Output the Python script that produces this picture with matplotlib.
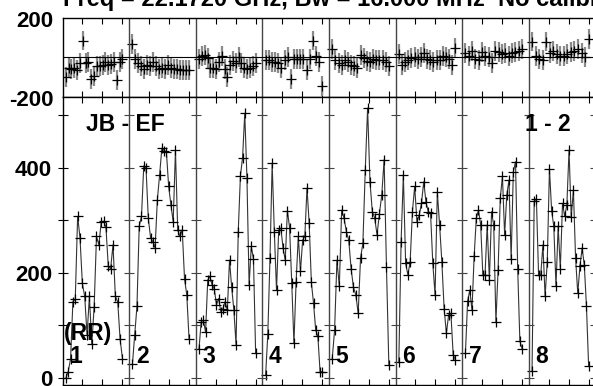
import numpy as np
import matplotlib.pyplot as plt
from matplotlib.transforms import blended_transform_factory

plt.rcParams['font.family'] = ['Liberation Sans', 'DejaVu Sans']
plt.rcParams['font.weight'] = 'bold'

# amplitude per IF
amp1 = [0, 12, 36, 145, 150, 307, 267, 180, 155, 82, 155, 64, 135, 269, 253, 296, 298, 287, 212, 208, 253, 155, 145, 74, 37]
amp2 = [26, 82, 136, 289, 307, 403, 400, 304, 267, 259, 247, 338, 386, 437, 432, 430, 364, 329, 297, 433, 281, 269, 281, 189, 158, 75]
amp3 = [56, 107, 110, 87, 186, 193, 177, 170, 139, 151, 126, 132, 145, 129, 224, 172, 129, 63, 277, 384, 419, 503, 381, 177, 250, 226, 47]
amp4 = [6, 83, 228, 408, 277, 167, 281, 285, 247, 224, 318, 286, 180, 66, 183, 269, 203, 262, 269, 361, 294, 182, 142, 91, 79, 12, 12]
amp5 = [37, 91, 224, 174, 319, 304, 278, 262, 208, 172, 158, 123, 228, 256, 395, 513, 373, 316, 304, 272, 312, 348, 415, 210, 25]
amp6 = [31, 259, 386, 218, 196, 221, 316, 364, 297, 309, 332, 373, 334, 316, 314, 218, 158, 354, 291, 221, 132, 85, 120, 123, 44, 34]
amp7 = [47, 146, 167, 129, 231, 304, 319, 291, 196, 196, 291, 186, 316, 290, 107, 205, 342, 383, 272, 348, 376, 226, 392, 411, 208, 70, 56]
amp8 = [13, 336, 341, 196, 196, 253, 155, 221, 398, 318, 288, 174, 288, 208, 332, 307, 329, 433, 306, 357, 228, 161, 212, 247, 215, 136, 22]

# phase per IF
ph1 = [-98, -56, -61, -56, -66, -29, 84, -29, -24, -111, -94, -46, -46, -39, -24, -39, -34, -24, -115, -24, -8]
ph2 = [66, -8, -29, -46, -61, -39, -46, -24, -44, -61, -56, -61, -39, -56, -59, -61, -64, -64, -64, -64]
ph3 = [-8, 8, 13, -3, -56, -56, -59, -24, 8, -61, -98, -39, -19, -29, 3, -27, -56, -59, -56, -46, -29]
ph4 = [-13, -16, -24, -24, -29, -56, -16, 3, -111, -8, -8, -8, -8, -66, -8, 84, 8, -24, -145]
ph5 = [40, -16, -29, -39, -16, -24, -39, -46, -56, 13, -3, -19, -24, -8, -13, -16, -13, -24, -46]
ph6 = [16, -39, -24, -16, -3, 3, -8, 3, 21, -8, -13, -24, -16, -16, 8, 3, -8, -39, 45]
ph7 = [21, 8, 33, -8, -13, 26, 8, 3, -29, 33, 26, 16, 21, 8, 21, 26, 33, 40]
ph8 = [79, 8, -8, -16, 79, 21, 30, 16, 8, 8, 16, 26, 33, 40, 21, 3, 94]

amps = [amp1, amp2, amp3, amp4, amp5, amp6, amp7, amp8]
phases = [ph1, ph2, ph3, ph4, ph5, ph6, ph7, ph8]
if_labels = ['1', '2', '3', '4', '5', '6', '7', '8']
npan = len(amps)

fig = plt.figure(figsize=(5.93, 3.86), dpi=100)
W = 593.0
H = 386.0
left = 62.5 / W
width = 66.6 * npan / W
ax_ph = fig.add_axes([left, 1 - 97 / H, width, 79.5 / H])
ax_am = fig.add_axes([left, 1 - 385 / H, width, 288 / H])

def panel_x(i, n):
    return i + np.linspace(0.05, 0.9, n)

for i in range(npan):
    x = panel_x(i, len(amps[i]))
    ax_am.plot(x, amps[i], color='#333333', lw=0.8, marker='+', ms=7,
               mew=0.9, mec='black')
    xp = panel_x(i, len(phases[i]))
    ax_ph.errorbar(xp, phases[i], yerr=50, fmt='none', ecolor='#8a8a8a',
                   elinewidth=1.6)
    ax_ph.plot(xp, phases[i], ls='none', marker='+', ms=7, mew=0.9,
               color='black')

for ax in (ax_ph, ax_am):
    ax.set_xlim(0, npan)
    for b in range(1, npan):
        ax.axvline(b, color='#444444', lw=1.0)
    ticks = [i + f for i in range(npan) for f in (0.3, 0.6, 0.9)]
    ax.set_xticks(ticks)
    ax.set_xticklabels([])
    ax.tick_params(axis='x', direction='in', top=True, bottom=True,
                   length=4, width=0.8)
    for s in ax.spines.values():
        s.set_linewidth(1.0)

# phase panel
ax_ph.set_ylim(-200, 200)
ax_ph.axhline(0, color='black', lw=0.8)
ax_ph.set_yticks([])
tr = blended_transform_factory(ax_ph.transAxes, ax_ph.transData)
ax_ph.text(-0.017, 182, '200', transform=tr, ha='right', va='center', fontsize=16)
ax_ph.text(-0.017, -218, '-200', transform=tr, ha='right', va='center', fontsize=16)

# amplitude panel
ax_am.set_ylim(-13.3, 534)
ax_am.set_yticks([0, 200, 400])
ax_am.set_yticks([100, 300, 500], minor=True)
ax_am.tick_params(axis='y', which='both', direction='inout', length=7,
                  width=0.8, labelsize=16, pad=4)
for b in range(1, npan + 1):
    ax_am.hlines([0, 100, 200, 300, 400, 500], b - 0.075, b + 0.075,
                 color='#444444', lw=0.8)

for i in range(npan):
    ax_am.text(i + 0.1, 28, if_labels[i], fontsize=16.5, va='baseline')
ax_am.text(0.02, 72, '(RR)', fontsize=16.5, va='baseline')
ax_am.text(0.35, 470, 'JB - EF', fontsize=16.5, va='baseline')
ax_am.text(6.94, 470, '1 - 2', fontsize=16.5, va='baseline')

fig.text(63 / W, 1 - 6 / H, 'Freq = 22.1720 GHz, Bw = 16.000 MHz  No calibration',
         fontsize=17, va='baseline', ha='left')

fig.savefig('out.png', dpi=100)
